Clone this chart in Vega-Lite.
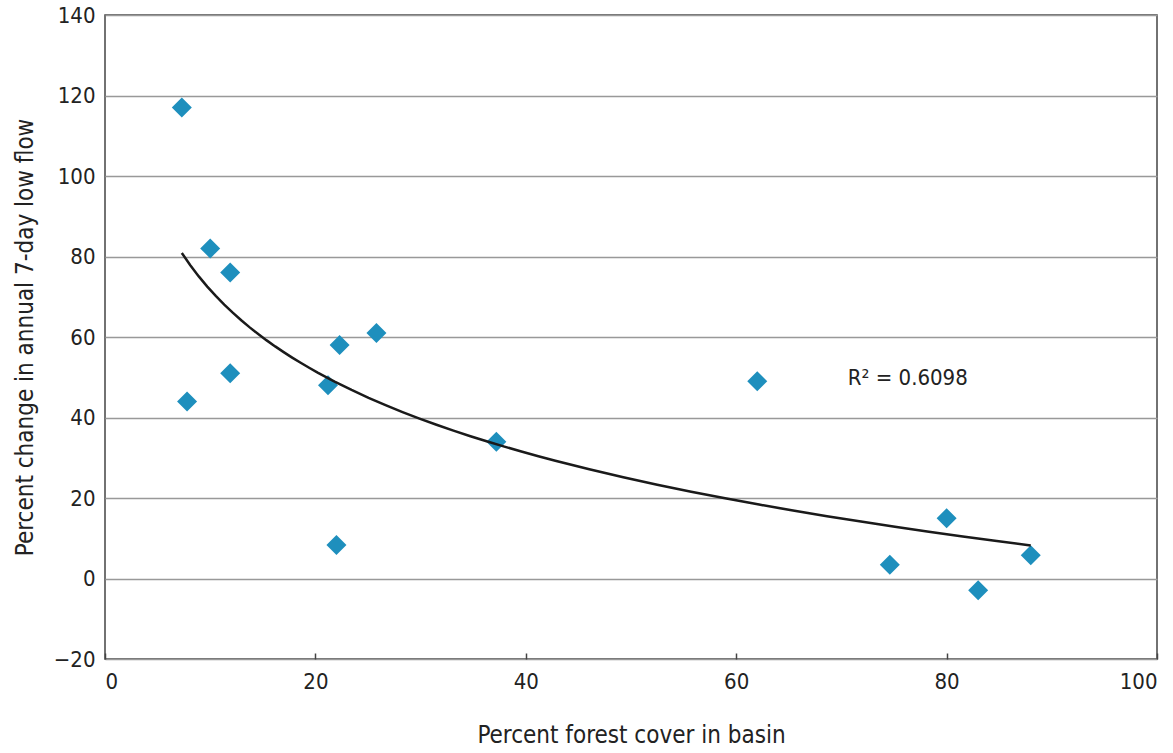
{
  "$schema": "https://vega.github.io/schema/vega-lite/v6.json",
  "width": 1052,
  "height": 644,
  "autosize": {"type": "none"},
  "padding": {"left": 105, "top": 15, "right": 16, "bottom": 94},
  "background": "white",
  "config": {
    "font": "Liberation Sans Narrow, DejaVu Sans Condensed, sans-serif",
    "view": {"stroke": "#444444", "strokeWidth": 1.5},
    "axis": {
      "labelFont": "Liberation Sans Narrow, DejaVu Sans Condensed, sans-serif",
      "titleFont": "Liberation Sans Narrow, DejaVu Sans Condensed, sans-serif",
      "labelFontSize": 22,
      "titleFontSize": 24,
      "labelColor": "#222222",
      "titleColor": "#222222",
      "titleFontWeight": "normal"
    }
  },
  "data": {
    "values": [
      {"forest": 7.3, "change": 117},
      {"forest": 10.0, "change": 82},
      {"forest": 11.9, "change": 76},
      {"forest": 7.8, "change": 44},
      {"forest": 11.9, "change": 51},
      {"forest": 21.2, "change": 48},
      {"forest": 22.3, "change": 58},
      {"forest": 25.8, "change": 61},
      {"forest": 22.0, "change": 8.3},
      {"forest": 37.2, "change": 34},
      {"forest": 62.0, "change": 49},
      {"forest": 74.6, "change": 3.4},
      {"forest": 80.0, "change": 15},
      {"forest": 83.0, "change": -2.9},
      {"forest": 88.0, "change": 5.8}
    ]
  },
  "layer": [
    {
      "mark": {"type": "point", "shape": "diamond", "filled": true, "size": 400, "color": "#1e8fbd", "opacity": 1},
      "encoding": {
        "x": {
          "field": "forest", "type": "quantitative",
          "scale": {"domain": [0, 100], "nice": false, "zero": false},
          "axis": {
            "title": "Percent forest cover in basin",
            "values": [0, 20, 40, 60, 80, 100],
            "grid": false,
            "domain": false,
            "ticks": true,
            "tickSize": -6,
            "tickColor": "#444444",
            "tickWidth": 1.5,
            "labelPadding": 18,
            "titlePadding": 31
          }
        },
        "y": {
          "field": "change", "type": "quantitative",
          "scale": {"domain": [-20, 140], "nice": false, "zero": false},
          "axis": {
            "title": "Percent change in annual 7-day low flow",
            "values": [-20, 0, 20, 40, 60, 80, 100, 120, 140],
            "grid": true,
            "gridColor": "#999999",
            "gridWidth": 1.5,
            "domain": false,
            "ticks": false,
            "labelPadding": 10,
            "titlePadding": 16
          }
        }
      }
    },
    {
      "transform": [{"regression": "change", "on": "forest", "method": "log"}],
      "mark": {"type": "line", "color": "#1a1a1a", "strokeWidth": 2.5},
      "encoding": {
        "x": {"field": "forest", "type": "quantitative"},
        "y": {"field": "change", "type": "quantitative"}
      }
    },
    {
      "data": {"values": [{"label": "R² = 0.6098", "x": 70.6, "y": 49.8}]},
      "mark": {"type": "text", "align": "left", "baseline": "middle", "fontSize": 22, "color": "#222222", "font": "Liberation Sans Narrow, DejaVu Sans Condensed, sans-serif"},
      "encoding": {
        "x": {"field": "x", "type": "quantitative"},
        "y": {"field": "y", "type": "quantitative"},
        "text": {"field": "label"}
      }
    }
  ]
}
